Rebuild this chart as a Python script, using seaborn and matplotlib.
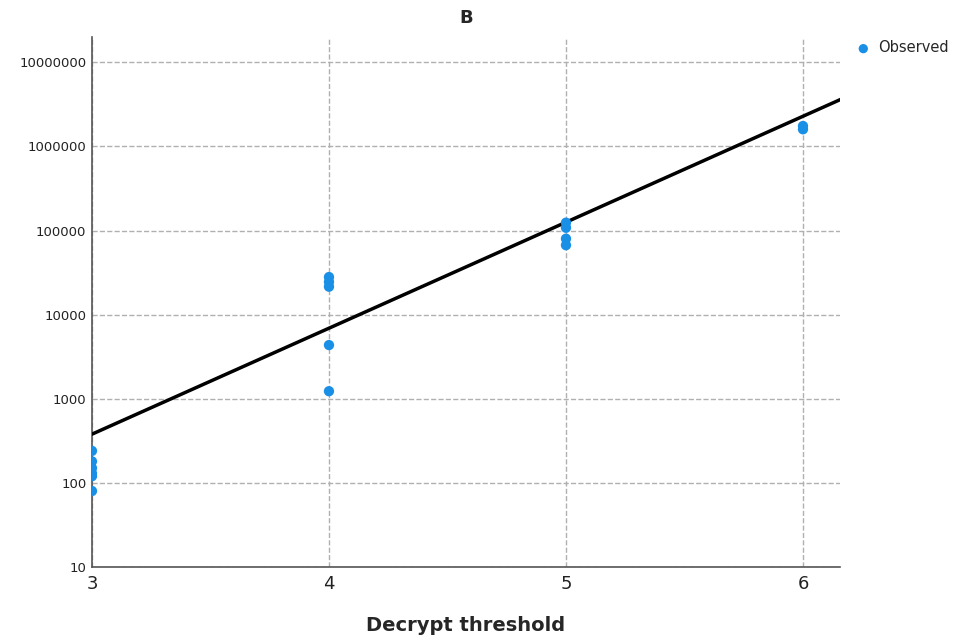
import numpy as np
import pandas as pd
import matplotlib
matplotlib.use('Agg')
import matplotlib.pyplot as plt
from matplotlib.ticker import FuncFormatter, FixedLocator, NullLocator
import seaborn as sns

threshold = [3, 3, 3, 3, 3, 3,
             4, 4, 4, 4, 4,
             5, 5, 5, 5,
             6, 6]
time_ms = [240, 180, 150, 130, 120, 80,
           28000, 24500, 21500, 4350, 1230,
           124000, 108000, 80000, 67000,
           1750000, 1600000]

# fitted exponential line: log10(y) = fit_a + fit_b * x
fit_a = -1.201
fit_b = 1.26
fit_x = [3.0, 6.16]

y_ticks = [10, 100, 1000, 10000, 100000, 1000000, 10000000]
x_ticks = [3, 4, 5, 6]

df = pd.DataFrame({"threshold": threshold, "value": time_ms})
fit_df = pd.DataFrame({"threshold": fit_x})
fit_df["value"] = 10 ** (fit_a + fit_b * fit_df["threshold"])

sns.set_theme(style="white")
plt.rcParams['font.family'] = ['DejaVu Sans']

fig = plt.figure(figsize=(9.57, 6.44), dpi=100)
ax = fig.add_axes([0.0961, 0.1196, 0.7816, 0.8229])

sns.lineplot(data=fit_df, x="threshold", y="value", ax=ax, color="black",
             linewidth=2.5, zorder=3, legend=False)
sns.scatterplot(data=df, x="threshold", y="value", ax=ax, color="#1a8fe6",
                s=55, edgecolor="none", zorder=4, label="Observed")

ax.set_yscale("log")
ax.set_ylim(10, 2.0e7)
ax.set_xlim(3, 6.156)
ax.yaxis.set_major_locator(FixedLocator(y_ticks))
ax.yaxis.set_minor_locator(NullLocator())
ax.yaxis.set_major_formatter(FuncFormatter(lambda v, p: f"{int(round(v))}"))
ax.set_xticks(x_ticks)

ax.grid(True, color="#b0b0b0", linestyle="--", linewidth=1.0)
ax.set_axisbelow(True)
for side in ["top", "right"]:
    ax.spines[side].set_visible(False)
for side in ["left", "bottom"]:
    ax.spines[side].set_color("#555555")
    ax.spines[side].set_linewidth(1.2)

ax.tick_params(axis="y", labelsize=9.5, length=0, pad=4, colors="#222222")
ax.tick_params(axis="x", labelsize=13, length=0, pad=6, colors="#222222")

ax.set_xlabel("Decrypt threshold", fontsize=14, fontweight="bold", labelpad=16)
ax.set_ylabel("")
ax.set_title("B", fontsize=13, fontweight="bold", pad=10)

ax.legend(loc="upper left", bbox_to_anchor=(1.0, 1.01), frameon=False,
          fontsize=10.5, handletextpad=0.0, borderaxespad=0.2, markerscale=0.9)

fig.savefig("out.png", dpi=100)
